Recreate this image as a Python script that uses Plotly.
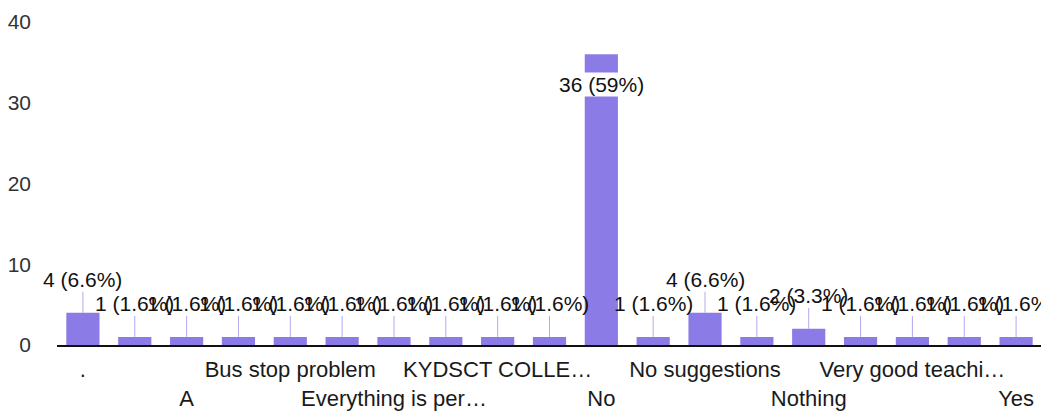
import plotly.graph_objects as go

categories = [".", "..", "A", "All good", "Bus stop problem", "Canteen facility",
              "Everything is perfect", "Good", "KYDSCT COLLEGE", "Less holidays",
              "No", "No comments", "No suggestions", "Nope", "Nothing",
              "Sports facilities", "Very good teaching", "Wifi facility", "Yes"]
values = [4, 1, 1, 1, 1, 1, 1, 1, 1, 1, 36, 1, 4, 1, 2, 1, 1, 1, 1]

# every other category is labelled, alternating in two rows
tick_cats = [".", "A", "Bus stop problem", "Everything is perfect", "KYDSCT COLLEGE",
             "No", "No suggestions", "Nothing", "Very good teaching", "Yes"]
tick_labels = [".", "A", "Bus stop problem", "Everything is per…", "KYDSCT COLLE…",
               "No", "No suggestions", "Nothing", "Very good teachi…", "Yes"]

y_ticks = [0, 10, 20, 30, 40]

BAR = "#8b7be6"
LEAD = "#b3a8ef"
FONT = "Liberation Sans, Arial, sans-serif"

total = sum(values)
ticktext = [t if i % 2 == 0 else "<br>" + t for i, t in enumerate(tick_labels)]

fig = go.Figure(go.Bar(x=categories, y=values, marker=dict(color=BAR, line=dict(width=0)),
                       hoverinfo="skip"))

vmax = max(values)
for c, v in zip(categories, values):
    label = f"{v} ({v / total * 100:.2g}%)"
    if v == vmax:
        fig.add_annotation(x=c, y=v, text=label, showarrow=False, yshift=-30,
                           bgcolor="white", borderpad=0,
                           font=dict(family=FONT, size=21, color="#111"))
    else:
        fig.add_annotation(x=c, y=v, text=label, showarrow=True, arrowhead=0,
                           arrowwidth=1, arrowcolor=LEAD, ax=0, ay=-33,
                           standoff=0, borderpad=0,
                           font=dict(family=FONT, size=21, color="#111"))

fig.update_layout(
    width=1049, height=411,
    margin=dict(l=49, r=15, t=14, b=74, autoexpand=False),
    paper_bgcolor="white", plot_bgcolor="white",
    bargap=0.36, showlegend=False,
    font=dict(family=FONT, size=21, color="#222"),
    xaxis=dict(tickmode="array", tickvals=tick_cats, ticktext=ticktext,
               range=[-0.5, len(categories) - 0.5],
               tickangle=0, showgrid=False, showline=True, linecolor="#111",
               linewidth=2, ticks="", automargin=False, ticklabelstandoff=4,
               tickfont=dict(family=FONT, size=22, color="#1a1a1a"),
               categoryorder="array", categoryarray=categories),
    yaxis=dict(range=[0, 40], tickvals=y_ticks, showgrid=False, zeroline=False,
               showline=False, ticks="", ticklabelstandoff=25, automargin=False,
               tickfont=dict(family=FONT, size=21, color="#333")),
)

fig.write_html("out.html")
